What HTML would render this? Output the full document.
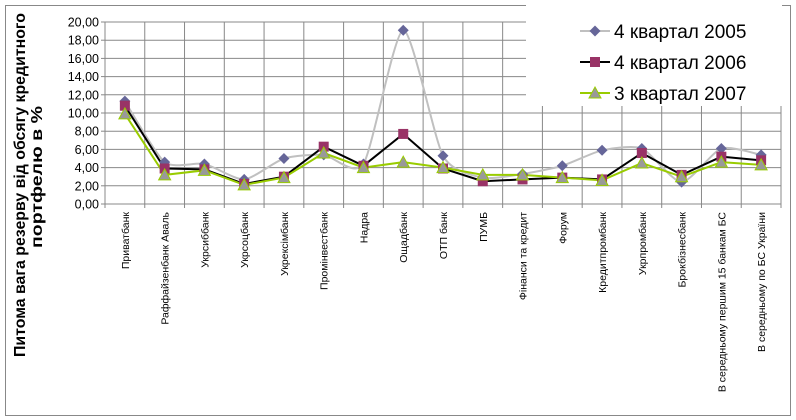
<!DOCTYPE html><html><head><meta charset="utf-8"><style>body{margin:0;background:#fff}svg{display:block}</style></head><body>
<svg id="s" width="796" height="420" xmlns="http://www.w3.org/2000/svg" font-family="Liberation Sans, Arial, sans-serif"></svg>
<script>
const s=document.getElementById('s');
const L=105,R=781,T=22,B=204,n=17,cw=(R-L)/n;
const cats=["Приватбанк","Раффайзенбанк  Аваль","Укрсиббанк","Укрсоцбанк","Укрексімбанк","Промінвестбанк","Надра","Ощадбанк","ОТП банк","ПУМБ","Фінанси та кредит","Форум","Кредитпромбанк","Укрпромбанк","Брокбізнесбанк","В середньому першим 15 банкам БС","В середньому по БС України"];
const d1=[11.3,4.6,4.4,2.7,5.0,5.4,4.4,19.1,5.3,2.9,3.3,4.2,5.9,6.1,2.4,6.1,5.4];
const d2=[10.8,3.9,3.8,2.2,3.0,6.3,4.2,7.7,3.9,2.5,2.7,2.9,2.7,5.6,3.2,5.2,4.8];
const d3=[9.9,3.2,3.7,2.1,2.9,5.6,4.0,4.6,4.0,3.2,3.2,2.9,2.6,4.5,3.0,4.6,4.3];
const X=i=>L+cw*(i+.5),Y=v=>B-(B-T)*v/20;
let h='<rect x="5.5" y="5.5" width="785" height="410" fill="#fff" stroke="#888"/>';
for(let k=0;k<=10;k++){const y=Y(k*2);h+=`<line x1="${L}" x2="${R}" y1="${y}" y2="${y}" stroke="#888"/><line x1="${L-4}" x2="${L}" y1="${y}" y2="${y}" stroke="#888"/><text x="${L-6}" y="${y+4.5}" font-size="12.5" text-anchor="end">${(k*2).toFixed(2).replace('.',',')}</text>`;}
for(let i=0;i<=n;i++){const x=L+cw*i;h+=`<line x1="${x}" x2="${x}" y1="${T}" y2="${B+4}" stroke="#888"/>`;}
h+='<rect x="526" y="5" width="256" height="101" fill="#fff"/>';
cats.forEach((c,i)=>{h+=`<text transform="translate(${X(i)+4},212) rotate(-90)" font-size="10.5" text-anchor="end">${c}</text>`});
h+='<text transform="translate(25,357) rotate(-90)" font-size="16" font-weight="bold" textLength="344" lengthAdjust="spacingAndGlyphs">Питома вага резерву від обсягу кредитного</text>';
h+='<text transform="translate(42,248) rotate(-90)" font-size="16" font-weight="bold" textLength="142" lengthAdjust="spacingAndGlyphs">портфелю в %</text>';
function smooth(d){let p=d.map((v,i)=>[X(i),Y(v)]);let s=`M${p[0]}`;const f=9;for(let i=0;i<p.length-1;i++){const a=p[i-1]||p[i],b=p[i],c=p[i+1],e=p[i+2]||c;s+=` C${b[0]+(c[0]-a[0])/f},${b[1]+(c[1]-a[1])/f} ${c[0]-(e[0]-b[0])/f},${c[1]-(e[1]-b[1])/f} ${c[0]},${c[1]}`;}return s;}
const poly=d=>d.map((v,i)=>`${X(i)},${Y(v)}`).join(' ');
h+=`<path d="${smooth(d1)}" fill="none" stroke="#c0c0c0" stroke-width="2"/>`;
h+=`<polyline points="${poly(d2)}" fill="none" stroke="#000" stroke-width="2"/>`;
h+=`<polyline points="${poly(d3)}" fill="none" stroke="#99cc00" stroke-width="2"/>`;
const dia=(x,y)=>`<polygon points="${x},${y-5.5} ${x+5.5},${y} ${x},${y+5.5} ${x-5.5},${y}" fill="#666699"/>`;
const sq=(x,y)=>`<rect x="${x-5}" y="${y-5}" width="10" height="10" fill="#993366"/>`;
const tri=(x,y)=>`<polygon points="${x},${y-6} ${x+6},${y+5} ${x-6},${y+5}" fill="#999" stroke="#99cc00"/>`;
d1.forEach((v,i)=>h+=dia(X(i),Y(v)));d2.forEach((v,i)=>h+=sq(X(i),Y(v)));d3.forEach((v,i)=>h+=tri(X(i),Y(v)));
const lg=[["4 квартал 2005","#c0c0c0",dia],["4 квартал 2006","#000",sq],["3 квартал 2007","#99cc00",tri]];
lg.forEach((g,k)=>{const y=31+k*31;h+=`<line x1="580" x2="610" y1="${y}" y2="${y}" stroke="${g[1]}" stroke-width="2"/>`+g[2](595,y)+`<text x="614" y="${y+7}" font-size="19">${g[0]}</text>`});
s.innerHTML=h;
</script></body></html>
